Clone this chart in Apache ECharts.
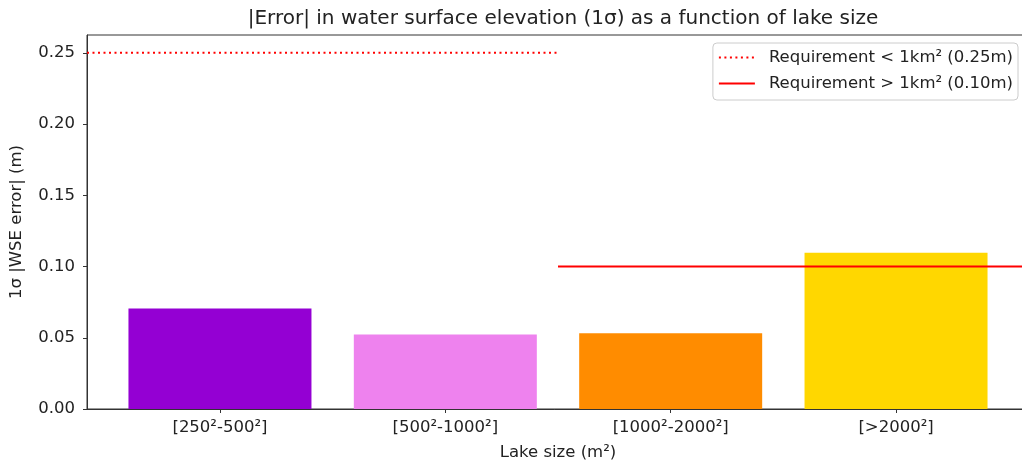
<!DOCTYPE html>
<html>
<head>
<meta charset="utf-8">
<script src="https://cdn.jsdelivr.net/npm/echarts@6/dist/echarts.min.js"></script>
<style>html,body{margin:0;padding:0;background:#fff}#c{width:1022px;height:466px}</style>
</head>
<body>
<div id="c"></div>
<script>
const categories = ['[250²-500²]', '[500²-1000²]', '[1000²-2000²]', '[>2000²]'];
const errorValues = [0.0705, 0.0523, 0.0532, 0.1097];
const barColors = ['#9400D3', '#EE82EE', '#FF8C00', '#FFD700'];
const yTicks = [0, 0.05, 0.10, 0.15, 0.20, 0.25];
const reqSmall = 0.25;
const reqLarge = 0.10;
const xLimits = [-0.59, 3.59];
const yLimits = [0, 0.2625];
const xMid = (xLimits[0] + xLimits[1]) / 2;
const legendNames = ['Requirement < 1km² (0.25m)', 'Requirement > 1km² (0.10m)'];

const font = 'DejaVu Sans';
const fs = 16.5;
const chart = echarts.init(document.getElementById('c'), null, {renderer: 'canvas'});
chart.setOption({
  animation: false,
  backgroundColor: '#fff',
  title: {
    text: '|Error| in water surface elevation (1σ) as a function of lake size',
    left: 558, top: 4, textAlign: 'center',
    textStyle: {fontFamily: font, fontSize: 20, fontWeight: 'normal', color: '#222'}
  },
  grid: {left: 87, right: -7, top: 35, bottom: 57, show: true, borderColor: '#333', borderWidth: 1, outerBoundsMode: 'none', containLabel: false},
  legend: {
    orient: 'vertical', right: 4, top: 43,
    data: legendNames.map(n => ({name: n, itemStyle: {opacity: 0}})),
    backgroundColor: '#fff', borderColor: '#ccc', borderWidth: 1, borderRadius: 4,
    padding: [6, 5, 8, 5], itemGap: 9, itemWidth: 36, itemHeight: 14,
    textStyle: {fontFamily: font, fontSize: fs, color: '#222', padding: [0, 0, 0, 9]}
  },
  xAxis: {
    type: 'value', min: xLimits[0], max: xLimits[1],
    name: 'Lake size (m²)', nameLocation: 'middle', nameGap: 35,
    nameTextStyle: {fontFamily: font, fontSize: fs, color: '#222'},
    axisLine: {show: true, onZero: false, lineStyle: {color: '#333', width: 1}},
    axisTick: {show: true, length: 4, customValues: [0, 1, 2, 3], lineStyle: {color: '#333'}},
    axisLabel: {customValues: [0, 1, 2, 3], margin: 10, fontFamily: font, fontSize: fs, color: '#222',
      formatter: v => categories[Math.round(v)] || ''},
    splitLine: {show: false}
  },
  yAxis: {
    type: 'value', min: yLimits[0], max: yLimits[1],
    name: '1σ |WSE error| (m)', nameLocation: 'middle', nameGap: 62,
    nameTextStyle: {fontFamily: font, fontSize: fs, color: '#222'},
    axisLine: {show: true, onZero: false, lineStyle: {color: '#333', width: 1}},
    axisTick: {show: true, length: 4, customValues: yTicks, lineStyle: {color: '#333'}},
    axisLabel: {customValues: yTicks, margin: 12, fontFamily: font, fontSize: fs, color: '#222',
      formatter: v => v.toFixed(2)},
    splitLine: {show: false}
  },
  series: [
    {
      type: 'bar', barWidth: 183, z: 2,
      data: errorValues.map((v, i) => ({value: [i, v], itemStyle: {color: barColors[i]}}))
    },
    {
      name: legendNames[0], type: 'line', symbol: 'none', z: 3,
      lineStyle: {color: '#ff0000', width: 2, type: [2, 3.5]},
      itemStyle: {color: '#ff0000'},
      data: [[xLimits[0], reqSmall], [xMid, reqSmall]]
    },
    {
      name: legendNames[1], type: 'line', symbol: 'none', z: 3,
      lineStyle: {color: '#ff0000', width: 2},
      itemStyle: {color: '#ff0000'},
      data: [[xMid, reqLarge], [xLimits[1], reqLarge]]
    }
  ]
});
</script>
</body>
</html>
